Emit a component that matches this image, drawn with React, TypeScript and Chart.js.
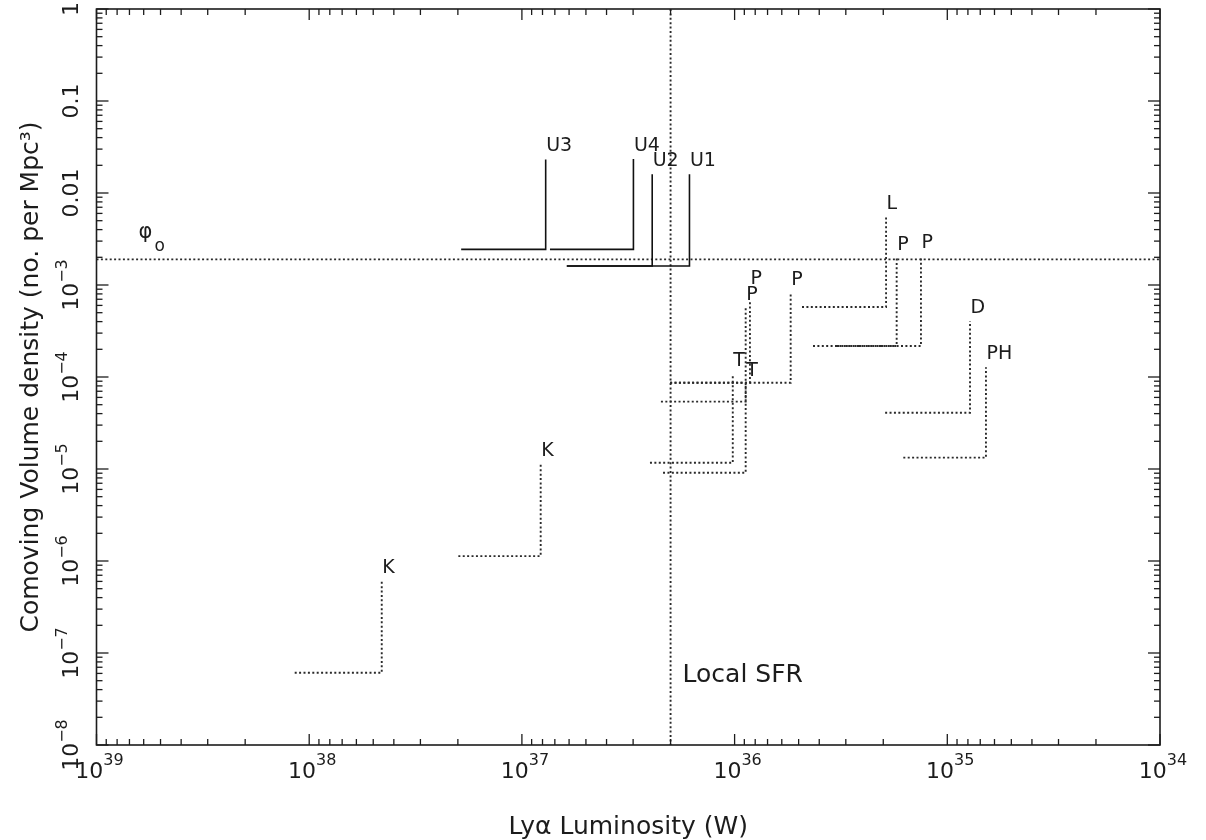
import React, { useEffect, useRef } from "react";
import { Chart, registerables } from "chart.js";

Chart.register(...registerables);

// ---- Axis ranges and ticks ----
const xMin = 1e34;
const xMax = 1e39;
const yMin = 1e-8;
const yMax = 1;

const xTickValues = [1e39, 1e38, 1e37, 1e36, 1e35, 1e34];
const xTickBase = ["10", "10", "10", "10", "10", "10"];
const xTickSup = ["39", "38", "37", "36", "35", "34"];

const yTickValues = [1, 0.1, 0.01, 1e-3, 1e-4, 1e-5, 1e-6, 1e-7, 1e-8];
const yTickBase = ["1", "0.1", "0.01", "10", "10", "10", "10", "10", "10"];
const yTickSup = ["", "", "", "\u22123", "\u22124", "\u22125", "\u22126", "\u22127", "\u22128"];

const xTitle = "Ly\u03b1 Luminosity (W)";
const yTitle = "Comoving Volume density (no. per Mpc\u00b3)";

// ---- Survey limits (L-shaped markers) ----
const surveyNames = ["U3", "U4", "U2", "U1", "L", "P", "P", "D", "PH", "P", "P", "P", "T", "T", "K", "K"];
const lumUpper = [1.93e37, 7.38e36, 6.15e36, 6.15e36, 4.82e35, 3.3e35, 4.28e35, 1.96e35, 1.61e35, 2.01e36, 2.01e36, 2.22e36, 2.5e36, 2.17e36, 1.99e37, 1.17e38];
const lumLimit = [7.73e36, 2.99e36, 2.44e36, 1.63e36, 1.94e35, 1.73e35, 1.33e35, 7.82e34, 6.58e34, 8.47e35, 5.45e35, 8.87e35, 1.02e36, 8.87e35, 8.16e36, 4.56e37];
const densLow = [2.44e-3, 2.44e-3, 1.61e-3, 1.61e-3, 5.77e-4, 2.17e-4, 2.17e-4, 4.09e-5, 1.33e-5, 8.67e-5, 8.67e-5, 5.4e-5, 1.17e-5, 9.12e-6, 1.13e-6, 6.11e-8];
const densHigh = [0.0232, 0.0234, 0.016, 0.016, 5.48e-3, 1.98e-3, 2.07e-3, 4.06e-4, 1.28e-4, 6.7e-4, 8.24e-4, 5.66e-4, 1.08e-4, 8.4e-5, 1.12e-5, 6.07e-7];
const isSolid = [true, true, true, true, false, false, false, false, false, false, false, false, false, false, false, false];

// ---- Reference lines ----
const phiO = 1.9e-3;
const localSFR = 2.0e36;
const phiLabel = "\u03c6";
const phiSub = "o";
const sfrLabel = "Local SFR";

const FONT = "'DejaVu Sans', 'Liberation Sans', sans-serif";
const INK = "#1c1c1c";

const decorPlugin = {
  id: "decor",
  afterDraw(chart: any) {
    const { ctx, chartArea: a, scales } = chart;
    const xs = scales.x;
    const ys = scales.y;
    ctx.save();
    ctx.strokeStyle = INK;
    ctx.fillStyle = INK;
    ctx.lineWidth = 1.6;
    ctx.strokeRect(a.left, a.top, a.right - a.left, a.bottom - a.top);

    const seg = (x1: number, y1: number, x2: number, y2: number) => {
      ctx.beginPath();
      ctx.moveTo(x1, y1);
      ctx.lineTo(x2, y2);
      ctx.stroke();
    };

    ctx.lineWidth = 1.3;
    const xe0 = Math.round(Math.log10(xMin));
    const xe1 = Math.round(Math.log10(xMax));
    for (let e = xe0; e <= xe1; e++) {
      for (let m = 1; m <= 9; m++) {
        if (e === xe1 && m > 1) break;
        const p = xs.getPixelForValue(m * Math.pow(10, e));
        const len = m === 1 ? 11 : 6;
        seg(p, a.bottom, p, a.bottom - len);
        seg(p, a.top, p, a.top + len);
      }
    }
    const ye0 = Math.round(Math.log10(yMin));
    const ye1 = Math.round(Math.log10(yMax));
    for (let e = ye0; e <= ye1; e++) {
      for (let m = 1; m <= 9; m++) {
        if (e === ye1 && m > 1) break;
        const p = ys.getPixelForValue(m * Math.pow(10, e));
        const len = m === 1 ? 12 : 6;
        seg(a.left, p, a.left + len, p);
        seg(a.right, p, a.right - len, p);
      }
    }

    // x tick labels
    ctx.textBaseline = "alphabetic";
    ctx.textAlign = "left";
    xTickValues.forEach((v, i) => {
      const p = xs.getPixelForValue(v);
      ctx.font = `22px ${FONT}`;
      const wb = ctx.measureText(xTickBase[i]).width;
      ctx.font = `16px ${FONT}`;
      const ws = ctx.measureText(xTickSup[i]).width;
      const x0 = p + 3 - (wb + ws) / 2;
      ctx.font = `22px ${FONT}`;
      ctx.fillText(xTickBase[i], x0, a.bottom + 33);
      ctx.font = `16px ${FONT}`;
      ctx.fillText(xTickSup[i], x0 + wb, a.bottom + 20);
    });

    // y tick labels (rotated)
    yTickValues.forEach((v, i) => {
      const p = ys.getPixelForValue(v);
      ctx.font = `22px ${FONT}`;
      const wb = ctx.measureText(yTickBase[i]).width;
      ctx.font = `16px ${FONT}`;
      const ws = yTickSup[i] ? ctx.measureText(yTickSup[i]).width : 0;
      ctx.save();
      ctx.translate(a.left - 18.5, p);
      ctx.rotate(-Math.PI / 2);
      const x0 = -(wb + ws) / 2;
      ctx.font = `22px ${FONT}`;
      ctx.fillText(yTickBase[i], x0, 0);
      if (yTickSup[i]) {
        ctx.font = `16px ${FONT}`;
        ctx.fillText(yTickSup[i], x0 + wb, -11);
      }
      ctx.restore();
    });

    // survey labels with simple collision avoidance
    ctx.font = `19px ${FONT}`;
    const capH = 13.8;
    const order = surveyNames.map((_, i) => i).sort((i, j) => densHigh[i] - densHigh[j]);
    const boxes: { l: number; r: number; t: number; b: number }[] = [];
    order.forEach((i) => {
      const px = xs.getPixelForValue(lumLimit[i]);
      const py = ys.getPixelForValue(densHigh[i]);
      const w = ctx.measureText(surveyNames[i]).width;
      const x0 = px + 0.5;
      let yb = py - 8;
      let moved = true;
      while (moved) {
        moved = false;
        for (const bx of boxes) {
          if (x0 < bx.r && x0 + w > bx.l && yb - capH < bx.b && yb > bx.t) {
            yb = bx.t - 2;
            moved = true;
          }
        }
      }
      ctx.fillText(surveyNames[i], x0, yb);
      boxes.push({ l: x0, r: x0 + w, t: yb - capH, b: yb });
    });

    // phi_o label
    const phiY = ys.getPixelForValue(phiO);
    ctx.font = `21px ${FONT}`;
    ctx.fillText(phiLabel, a.left + 42, phiY - 21);
    ctx.font = `17px ${FONT}`;
    ctx.fillText(phiSub, a.left + 58, phiY - 8);

    // Local SFR label
    const sfrX = xs.getPixelForValue(localSFR);
    ctx.font = `25px ${FONT}`;
    ctx.fillText(sfrLabel, sfrX + 12, a.bottom - 63);

    ctx.restore();
  },
};

export default function App() {
  const ref = useRef<HTMLCanvasElement | null>(null);

  useEffect(() => {
    if (!ref.current) return;
    const dotted = [2, 2.4];
    const datasets: any[] = surveyNames.map((name, i) => ({
      label: name,
      data: [
        { x: lumUpper[i], y: densLow[i] },
        { x: lumLimit[i], y: densLow[i] },
        { x: lumLimit[i], y: densHigh[i] },
      ],
      showLine: true,
      borderColor: isSolid[i] ? "#111" : "#2a2a2a",
      borderWidth: isSolid[i] ? 1.6 : 1.9,
      borderDash: isSolid[i] ? [] : dotted,
      pointRadius: 0,
      fill: false,
      tension: 0,
    }));
    datasets.push({
      label: "phi_o",
      data: [
        { x: xMax, y: phiO },
        { x: xMin, y: phiO },
      ],
      showLine: true,
      borderColor: "#2a2a2a",
      borderWidth: 1.9,
      borderDash: dotted,
      pointRadius: 0,
    });
    datasets.push({
      label: "Local SFR",
      data: [
        { x: localSFR, y: yMax },
        { x: localSFR, y: yMin },
      ],
      showLine: true,
      borderColor: "#2a2a2a",
      borderWidth: 1.9,
      borderDash: dotted,
      pointRadius: 0,
    });

    const chart = new Chart(ref.current, {
      type: "scatter",
      data: { datasets },
      options: {
        animation: false,
        responsive: true,
        maintainAspectRatio: false,
        layout: { padding: { left: 0, right: 46, top: 9, bottom: 0 } },
        plugins: { legend: { display: false }, tooltip: { enabled: false } },
        scales: {
          x: {
            type: "logarithmic",
            min: xMin,
            max: xMax,
            reverse: true,
            ticks: { display: false },
            grid: { display: false },
            border: { display: false },
            title: {
              display: true,
              text: xTitle,
              color: INK,
              font: { family: FONT, size: 25, lineHeight: 1 },
              padding: { top: 0, bottom: 0 },
            },
            afterFit: (s: any) => {
              s.height = 95;
            },
          },
          y: {
            type: "logarithmic",
            min: yMin,
            max: yMax,
            ticks: { display: false },
            grid: { display: false },
            border: { display: false },
            title: {
              display: true,
              text: yTitle,
              color: INK,
              font: { family: FONT, size: 25, lineHeight: 1 },
              padding: { top: 18.5, bottom: 0 },
            },
            afterFit: (s: any) => {
              s.width = 96.5;
            },
          },
        },
      } as any,
      plugins: [decorPlugin],
    });
    return () => chart.destroy();
  }, []);

  return (
    <div style={{ position: "fixed", left: 0, top: 0, width: 1206, height: 840, background: "#fff" }}>
      <canvas ref={ref} />
    </div>
  );
}
